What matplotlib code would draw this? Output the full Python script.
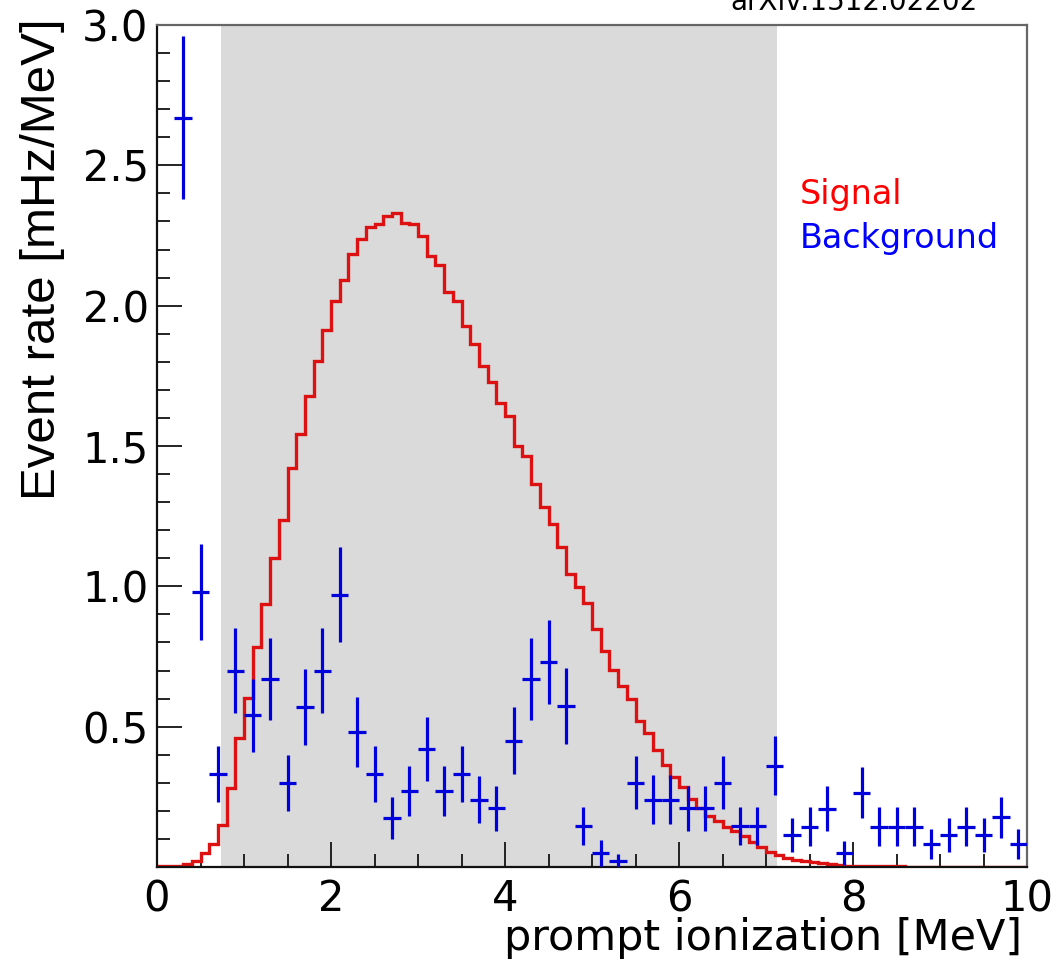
import numpy as np
import matplotlib
matplotlib.use("Agg")
import matplotlib.pyplot as plt
from matplotlib import font_manager
from matplotlib.ticker import MultipleLocator, FixedLocator

## Signal spectrum, 0.1 MeV bins from 0 to 10 MeV
signal_edges = np.linspace(0.0, 10.0, 101)
signal_rate = [
    0.003, 0.003, 0.004, 0.010, 0.020, 0.049, 0.082, 0.148, 0.283, 0.458,
    0.601, 0.785, 0.936, 1.100, 1.236, 1.420, 1.541, 1.678, 1.804, 1.913,
    2.017, 2.091, 2.183, 2.237, 2.279, 2.290, 2.320, 2.329, 2.293, 2.290,
    2.248, 2.178, 2.145, 2.047, 2.016, 1.927, 1.863, 1.786, 1.727, 1.652,
    1.608, 1.500, 1.464, 1.364, 1.281, 1.221, 1.139, 1.043, 0.996, 0.939,
    0.847, 0.771, 0.702, 0.646, 0.597, 0.521, 0.476, 0.418, 0.363, 0.322,
    0.284, 0.242, 0.210, 0.181, 0.163, 0.144, 0.129, 0.109, 0.090, 0.071,
    0.054, 0.041, 0.031, 0.025, 0.021, 0.017, 0.013, 0.011, 0.008, 0.005,
    0.004, 0.003, 0.003, 0.002, 0.002, 0.002, 0.001, 0.001, 0.001, 0.001,
    0.001, 0.0, 0.0, 0.0, 0.0, 0.0, 0.0, 0.0, 0.0, 0.0,
]

## Background measurement, 0.2 MeV bins
bkg_center = [
    0.3, 0.5, 0.7, 0.9, 1.1, 1.3, 1.5, 1.7, 1.9, 2.1,
    2.3, 2.5, 2.7, 2.9, 3.1, 3.3, 3.5, 3.7, 3.9, 4.1,
    4.3, 4.5, 4.7, 4.9, 5.1, 5.3, 5.5, 5.7, 5.9, 6.1,
    6.3, 6.5, 6.7, 6.9, 7.1, 7.3, 7.5, 7.7, 7.9, 8.1,
    8.3, 8.5, 8.7, 8.9, 9.1, 9.3, 9.5, 9.7, 9.9,
]
bkg_rate = [
    2.67, 0.98, 0.33, 0.70, 0.54, 0.67, 0.30, 0.57, 0.70, 0.97,
    0.48, 0.33, 0.175, 0.27, 0.42, 0.27, 0.33, 0.24, 0.21, 0.45,
    0.67, 0.73, 0.575, 0.146, 0.05, 0.02, 0.30, 0.24, 0.24, 0.21,
    0.21, 0.30, 0.145, 0.145, 0.36, 0.114, 0.144, 0.207, 0.051, 0.265,
    0.144, 0.144, 0.144, 0.082, 0.114, 0.144, 0.114, 0.177, 0.082,
]
bkg_err = [
    0.29, 0.17, 0.10, 0.15, 0.13, 0.145, 0.10, 0.135, 0.15, 0.17,
    0.125, 0.10, 0.075, 0.09, 0.115, 0.09, 0.10, 0.085, 0.08, 0.12,
    0.145, 0.15, 0.135, 0.068, 0.045, 0.025, 0.095, 0.088, 0.088, 0.08,
    0.08, 0.095, 0.068, 0.068, 0.105, 0.06, 0.068, 0.08, 0.043, 0.09,
    0.068, 0.068, 0.068, 0.052, 0.06, 0.068, 0.06, 0.073, 0.052,
]
bkg_halfwidth = 0.1

## Analysis window (shaded)
window = (0.74, 7.13)

x_ticks = [0, 2, 4, 6, 8, 10]
y_ticks = [0.5, 1.0, 1.5, 2.0, 2.5, 3.0]

plt.rcParams['font.family'] = ['DejaVu Sans']

## Narrow font for the y title if there is one, else plain Liberation Sans
try:
    font_manager.findfont('Liberation Sans Narrow', fallback_to_default=False)
    ylab_font, ylab_size = 'Liberation Sans Narrow', 43
except ValueError:
    ylab_font, ylab_size = 'Liberation Sans', 35.5

fig = plt.figure(figsize=(10.64, 9.71), dpi=100)
ax = fig.add_axes([157/1064, 104/971, 870/1064, 842/971])

ax.axvspan(window[0], window[1], color='#dadada', lw=0, zorder=0)

ax.stairs(signal_rate, signal_edges, baseline=None, color='#dd1111', lw=2.4, zorder=2)

ax.errorbar(bkg_center, bkg_rate, yerr=bkg_err, xerr=bkg_halfwidth,
            fmt='none', ecolor='#0000dd', elinewidth=2.3, capsize=0, zorder=3)

ax.set_xlim(0, 10)
ax.set_ylim(0, 3.0)

ax.xaxis.set_major_locator(FixedLocator(x_ticks))
ax.xaxis.set_minor_locator(MultipleLocator(0.5))
ax.yaxis.set_major_locator(FixedLocator(y_ticks))
ax.yaxis.set_minor_locator(MultipleLocator(0.1))
ax.set_xticklabels([str(t) for t in x_ticks])
ax.set_yticklabels(['%.1f' % t for t in y_ticks])

ax.tick_params(which='both', direction='in', top=False, right=False,
               colors='#222222', labelcolor='black', width=1.4)
ax.tick_params(which='major', length=18, labelsize=30)
ax.tick_params(which='minor', length=9.5)
ax.tick_params(axis='x', pad=8)
ax.tick_params(axis='y', pad=6)

for side in ['left', 'bottom']:
    ax.spines[side].set_linewidth(1.6)
    ax.spines[side].set_color('#111111')
for side in ['top', 'right']:
    ax.spines[side].set_linewidth(1.6)
    ax.spines[side].set_color('#666666')

## Axis titles, ROOT style (aligned to the far ends)
fig.text(1022/1064, 1 - 950/971, 'prompt ionization [MeV]', ha='right', va='baseline',
         fontsize=31)
fig.text(43/1064, 1 - 18/971, 'Event rate [mHz/MeV]', rotation=90, ha='center', va='top',
         fontsize=ylab_size, family=[ylab_font, 'DejaVu Sans'])

ax.text(7.39, 2.362, 'Signal', color='#ff0000', fontsize=24, va='baseline')
ax.text(7.39, 2.205, 'Background', color='#0000ff', fontsize=24, va='baseline')

fig.text(854/1064, 1 - 10/971, 'arXiv:1512.02202', ha='center', va='baseline', fontsize=20)

fig.savefig('out.png', dpi=100)
